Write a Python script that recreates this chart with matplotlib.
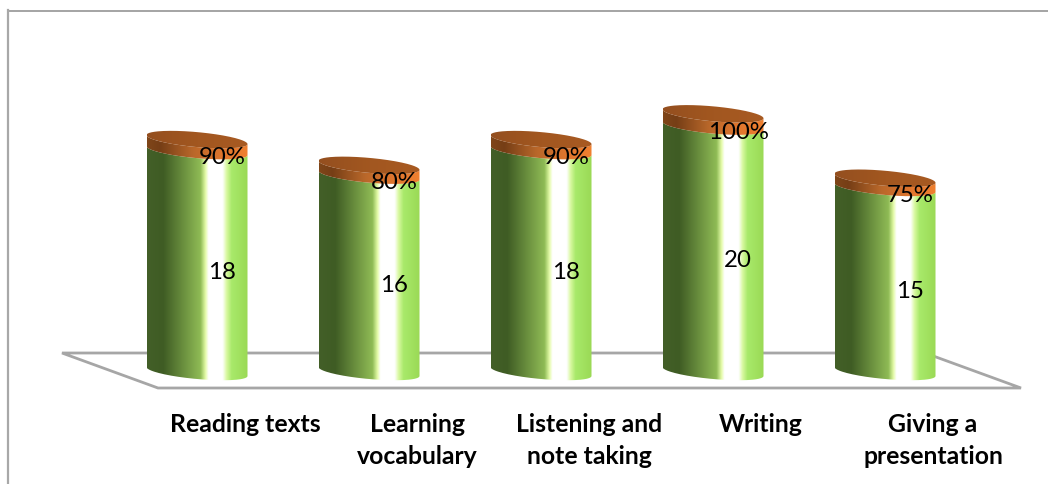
import numpy as np
import matplotlib
matplotlib.use('Agg')
import matplotlib.pyplot as plt
from matplotlib.colors import LinearSegmentedColormap
from matplotlib.patches import PathPatch
from matplotlib.path import Path
from matplotlib.transforms import Affine2D

categories = ['Reading texts', 'Learning\nvocabulary', 'Listening and\nnote taking', 'Writing', 'Giving a\npresentation']
counts = [18, 16, 18, 20, 15]
percents = [90, 80, 90, 100, 75]

W, H = 1048, 484
X0, X_STEP = 197.0, 172.0   # pixel position of the first bar, spacing
Y0, Y_UNIT = 371.5, 12.27   # pixel position of value 0, pixels per unit
RX, RY, TILT = 50.5, 7.5, 4.5

FONT = ['Lato', 'DejaVu Sans']
GREY = '#a6a6a6'

green = LinearSegmentedColormap.from_list('green_side', [
    (0.00, '#435f28'), (0.16, '#3f5c24'), (0.53, '#8fbb55'), (0.58, '#e4fba8'),
    (0.61, '#ffffff'), (0.75, '#ffffff'), (0.79, '#d8f8a0'), (0.84, '#a8e96a'), (1.00, '#9ad955')])
orange = LinearSegmentedColormap.from_list('orange_side', [
    (0.00, '#7f4619'), (0.13, '#763e16'), (0.45, '#b8672a'), (0.75, '#e0762e'), (1.00, '#f08030')])
lid = LinearSegmentedColormap.from_list('lid', ['#944f1f', '#a25720', '#a85a22'])


def rim(i, v, t):
    # point on the tilted ellipse around bar i at height v
    x = i + RX * np.cos(t) / X_STEP
    y = v - (RY * np.sin(t) + TILT * np.cos(t)) / Y_UNIT
    return x, y


def side_path(i, v0, v1):
    # front of the cylinder between two heights
    t = np.linspace(0, np.pi, 80)
    xa, ya = rim(i, v0, t)
    xb, yb = rim(i, v1, t[::-1])
    return Path(np.column_stack([np.r_[xa, xb], np.r_[ya, yb]]))


def fill_gradient(ax, path, cmap, i, v0, v1, z):
    patch = PathPatch(path, fc='none', ec='none', transform=ax.transData)
    ax.add_patch(patch)
    im = ax.imshow(np.linspace(0, 1, 256)[None, :], cmap=cmap, aspect='auto', zorder=z,
                   extent=[i - RX / X_STEP, i + RX / X_STEP, v0 - 2, v1 + 2],
                   interpolation='bilinear')
    im.set_clip_path(patch)


fig = plt.figure(figsize=(W / 100, H / 100), dpi=100)
ax = fig.add_axes([0, 0, 1, 1])
ax.axis('off')

# pixels measured from the top left of the figure
px = Affine2D().scale(1, -1).translate(0, H)

# outer frame
ax.plot([8, 1048], [10.5, 10.5], color='#8c8c8c', lw=1.1, transform=px, zorder=1, clip_on=False)
ax.plot([8, 8], [484, 10], color='#a8a8a8', lw=1.6, transform=px, zorder=1, clip_on=False)

# floor
ax.plot([925, 62, 158, 1021, 925], [353, 353, 388, 388, 353], color=GREY, lw=2.0,
        transform=px, zorder=1, solid_joinstyle='miter')

for i, (c, p) in enumerate(zip(counts, percents)):
    top = c + p / 100
    z = 3
    fill_gradient(ax, side_path(i, 0, c), green, i, 0, c, z)
    fill_gradient(ax, side_path(i, c, top), orange, i, c, top, z + 0.1)
    t = np.linspace(0, 2 * np.pi, 160)
    xs, ys = rim(i, top, t)
    fill_gradient(ax, Path(np.column_stack([xs, ys])), lid, i, top - 1, top + 1, z + 0.2)

    # value labels sit right of centre, a little below the mid height
    lx = i + 25 / X_STEP
    ax.annotate(str(c), (lx, c / 2), xytext=(0, -8.5), textcoords='offset points',
                ha='center', va='center', fontsize=17.3, family=FONT, color='black', zorder=6)
    ax.annotate(f'{p}%', (lx, c + p / 200), xytext=(0, -9), textcoords='offset points',
                ha='center', va='center', fontsize=17.3, family=FONT, color='black', zorder=6)

    ax.annotate(categories[i], (i + 48 / X_STEP, 0), xycoords='data', xytext=(0, -30),
                textcoords='offset points', ha='center', va='top', fontsize=17.8,
                fontweight='bold', family=FONT, color='black', linespacing=1.47, zorder=6)

ax.set_xlim(-X0 / X_STEP, (W - X0) / X_STEP)
ax.set_ylim((Y0 - H) / Y_UNIT, Y0 / Y_UNIT)

fig.savefig('out.png', dpi=100, facecolor='white')
